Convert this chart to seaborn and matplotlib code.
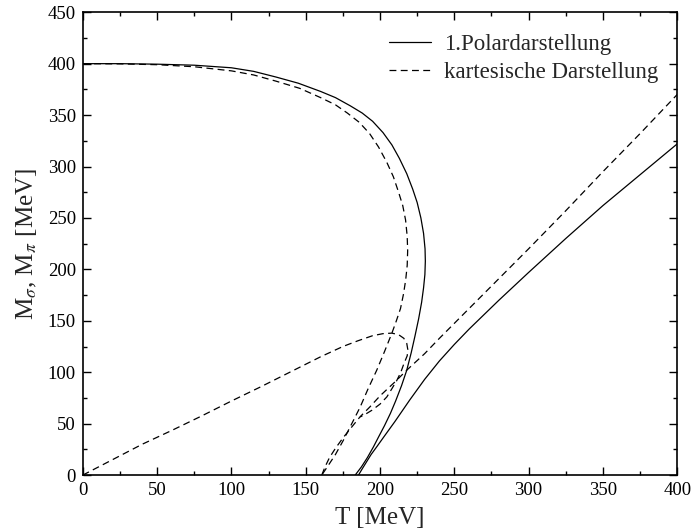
import matplotlib
matplotlib.use("Agg")
import matplotlib.pyplot as plt
import seaborn as sns
import pandas as pd
from matplotlib.lines import Line2D
from matplotlib.ticker import MultipleLocator

# ---- data ----
polar_sigma_T = [0, 25, 50, 75, 100, 115, 130, 145, 160, 170, 180, 188, 195, 202, 208, 213, 218,
                 222, 225, 227.5, 229.3, 230.3, 230.5, 230.2, 229.3, 228, 226, 223.5, 221,
                 218, 214.5, 210.5, 207, 203, 199, 195.6, 191.5, 187.5, 183.3]
polar_sigma_M = [400, 400, 399.5, 398.5, 396, 392.5, 387, 381, 373, 367, 359, 352, 344, 333, 321, 308, 293,
                 278, 265, 250, 235, 220, 208, 195, 182, 168, 152, 135, 119,
                 102, 87, 72, 60, 48, 37, 27.5, 17, 8, 0]

polar_high_T = [185.5, 188, 191, 194, 197.8, 203, 210, 220, 230, 240, 250, 260, 280, 300, 325, 350, 375, 400]
polar_high_M = [0, 6, 13, 20, 27.5, 38, 52, 73, 93, 111, 127, 142, 170, 197, 230, 262, 292, 322]

cart_sigma_T = [0, 25, 50, 75, 100, 115, 130, 146, 160, 170, 178, 186, 193, 199, 204.6, 209, 212.5,
                215.3, 217.2, 218.3, 218.6, 218.3, 217.3, 215.8, 213.8, 211, 208, 203, 197.8,
                192, 186.6, 181, 175.4, 170, 165, 160.8]
cart_sigma_M = [400, 399.8, 399, 397, 393, 389, 383, 376, 367, 360, 352, 343, 332, 319, 304, 290, 275,
                262, 248, 232, 218, 204, 190, 176, 162, 150, 138, 120, 102,
                84, 66, 50, 34, 20, 9, 0]

cart_pion_T = [0, 20, 40, 60, 80, 100, 120, 140, 160, 175, 185, 195, 202, 208, 212.5, 216,
               218, 218.7, 218.3, 216, 214, 211.3, 208, 204.6, 200, 194.5, 190, 186.6]
cart_pion_M = [0, 15, 30, 43.5, 57.5, 72, 86, 100.5, 115, 125, 130.5, 135.5, 137.5, 138, 136.5, 133,
               128, 122, 116, 108, 100, 92, 84, 76, 69, 63, 59, 56.5]

cart_high_T = [160.8, 163, 166, 170, 175, 180, 186.6, 193, 200, 210, 218, 230, 240, 260, 280, 300,
               325, 350, 375, 400]
cart_high_M = [0, 8, 17, 26, 36, 45, 56.7, 66, 77, 90.5, 102, 118, 133, 162, 191, 220,
               257, 295, 332, 370]

legend_labels = ["1.Polardarstellung", "kartesische Darstellung"]
x_ticks = [0, 50, 100, 150, 200, 250, 300, 350, 400]
y_ticks = [0, 50, 100, 150, 200, 250, 300, 350, 400, 450]

# ---- style ----
sns.set_style("ticks")
plt.rcParams['font.family'] = ['Liberation Serif', 'DejaVu Serif']
plt.rcParams['mathtext.fontset'] = 'stix'

fig = plt.figure(figsize=(6.96, 5.32), dpi=100)
ax = fig.add_axes([0.119, 0.107, 0.854, 0.870])

lw = 0.9
dash = (0, (5.5, 3.5))

curves = [
    (polar_sigma_T, polar_sigma_M, '-'),
    (polar_high_T, polar_high_M, '-'),
    (cart_sigma_T, cart_sigma_M, dash),
    (cart_pion_T, cart_pion_M, dash),
    (cart_high_T, cart_high_M, dash),
]
for T, M, ls in curves:
    df = pd.DataFrame({"T": T, "M": M})
    sns.lineplot(data=df, x="T", y="M", sort=False, estimator=None, ax=ax,
                 color="black", lw=lw, linestyle=ls)

ax.set_xlim(0, 400)
ax.set_ylim(0, 450)
ax.set_xticks(x_ticks)
ax.set_yticks(y_ticks)
ax.xaxis.set_minor_locator(MultipleLocator(25))
ax.yaxis.set_minor_locator(MultipleLocator(25))
ax.tick_params(which='both', direction='in', top=True, right=True, labelsize=13.5,
               width=1.0, colors='black')
ax.tick_params(which='major', length=6, pad=5)
ax.tick_params(which='minor', length=3)
for s in ax.spines.values():
    s.set_linewidth(1.2)
    s.set_color('black')

ax.set_xlabel("T [MeV]", fontsize=18, labelpad=0)
ax.xaxis.set_label_coords(0.5, -0.068)
ax.set_ylabel(r"M$_\sigma$, M$_\pi$ [MeV]", fontsize=18, labelpad=6)

handles = [Line2D([], [], color='black', lw=lw, linestyle='-'),
           Line2D([], [], color='black', lw=lw, linestyle=dash)]
ax.legend(handles, legend_labels, loc='upper right', frameon=False, fontsize=16.5,
          handlelength=1.85, handletextpad=0.55, labelspacing=0.28,
          borderaxespad=0.0, bbox_to_anchor=(0.983, 0.972))

fig.savefig("out.png", dpi=100)
